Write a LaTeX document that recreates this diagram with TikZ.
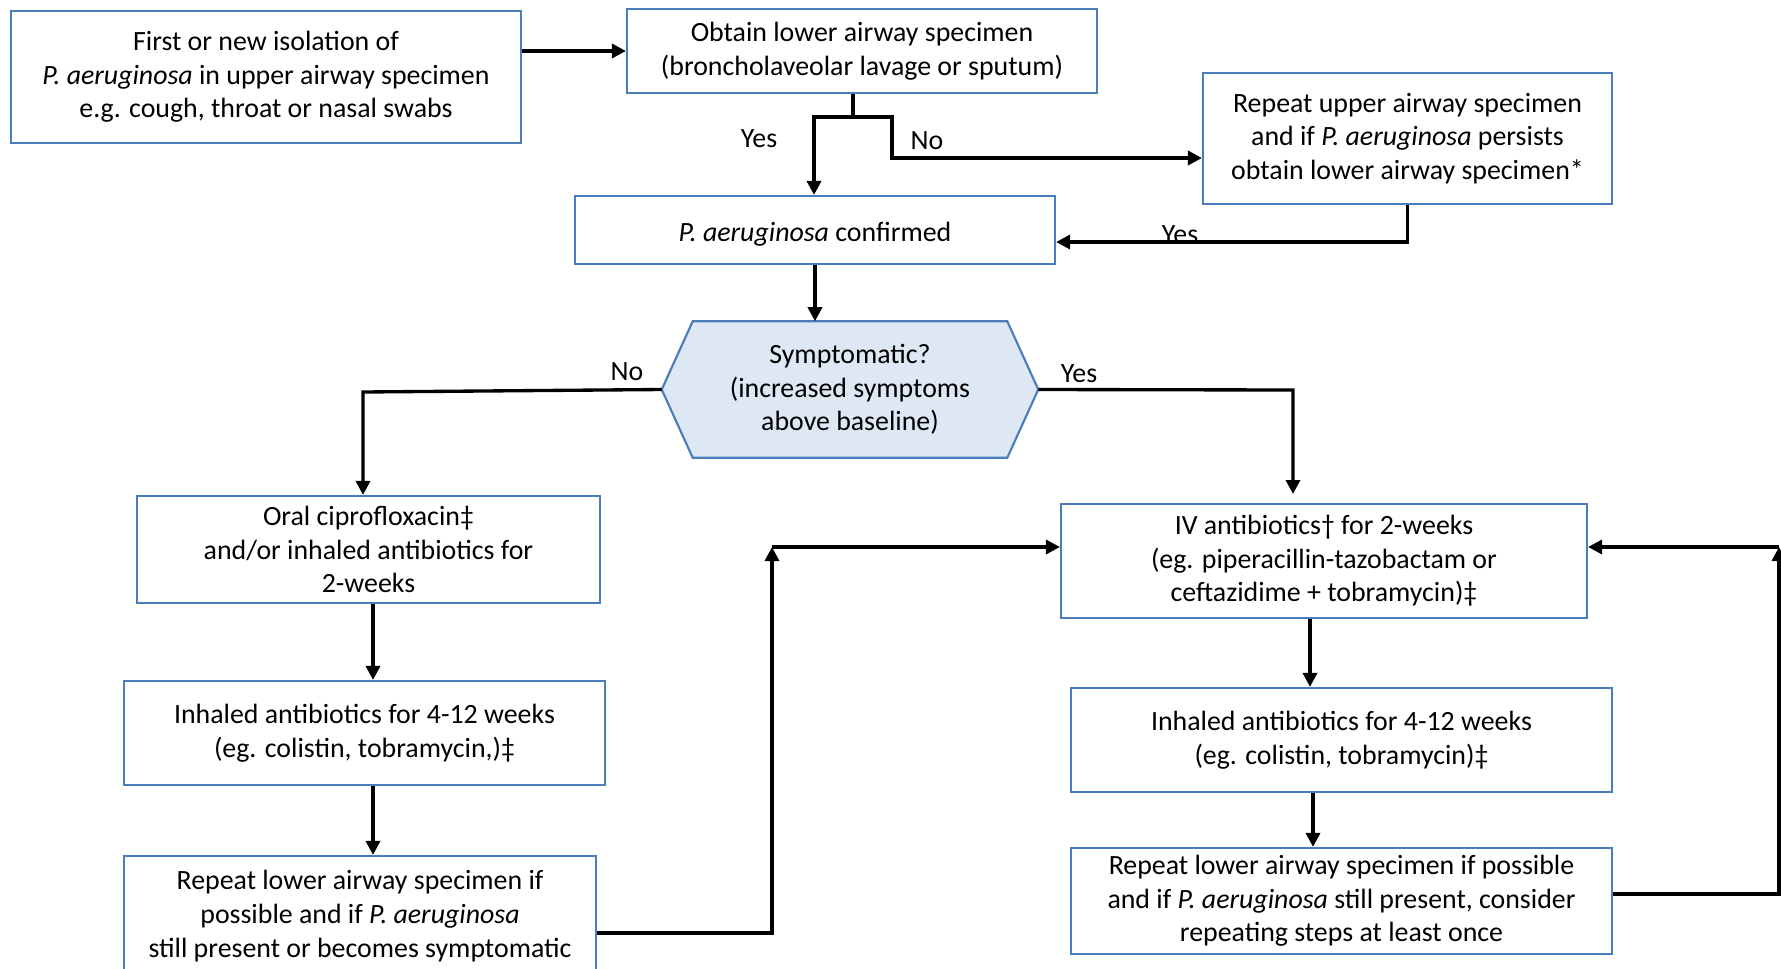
\documentclass[tikz,border=0pt]{standalone}
\usepackage{fontspec}
\setmainfont{Carlito}
\usetikzlibrary{arrows.meta,backgrounds}
\definecolor{boxblue}{HTML}{4A7DBA}
\definecolor{hexfill}{HTML}{DEE8F5}
\tikzset{
  box/.style={draw=boxblue, line width=1.6pt, fill=white, align=center, inner sep=0pt, anchor=center,
    execute at begin node={\rule{0pt}{20.5pt}}},
  hexnode/.style={draw=none, align=center, inner sep=0pt, anchor=center,
    execute at begin node={\rule{0pt}{20.5pt}}},
  hexshape/.style={draw=boxblue, line width=1.6pt, fill=hexfill, line join=miter},
  line/.style={line width=2.5pt, draw=black},
  conn/.style={line, -{Triangle[length=10.5pt,width=10.5pt]}},
  lbl/.style={inner sep=0pt, anchor=center},
}
\begin{document}
\begin{tikzpicture}[x=0.75pt, y=-0.75pt, font=\fontsize{20.9pt}{25.2pt}\selectfont]
\useasboundingbox (0,0) rectangle (1781,968);
\clip (0,0) rectangle (1781,968);

% nodes
\node[box, minimum width=382.5pt, minimum height=99pt] (A) at (266,77)
  {First or new isolation of\\\textit{P. aeruginosa} in upper airway specimen\\e.g. cough, throat or nasal swabs};
\node[box, minimum width=352.5pt, minimum height=63pt] (B) at (862,51)
  {Obtain lower airway specimen\\(broncholaveolar lavage or sputum)};
\node[box, minimum width=306.75pt, minimum height=98.25pt] (D) at (1407.5,138.5)
  {Repeat upper airway specimen\\and if \textit{P. aeruginosa} persists\\obtain lower airway specimen*};
\node[box, minimum width=360pt, minimum height=51pt] (C) at (815,230)
  {\textit{P. aeruginosa} confirmed};
\node[hexnode, minimum width=282pt, minimum height=102pt] (hex) at (850,389.5)
  {Symptomatic?\\(increased symptoms\\above baseline)};
\begin{scope}[on background layer]
  \fill[white] (0,0) rectangle (1781,968);
  \path[hexshape] (hex.west) -- ([xshift=23.25pt]hex.north west) -- ([xshift=-23.25pt]hex.north east)
    -- (hex.east) -- ([xshift=-23.25pt]hex.south east) -- ([xshift=23.25pt]hex.south west) -- cycle;
\end{scope}
\node[box, minimum width=347.25pt, minimum height=80.25pt] (E) at (368.5,549.5)
  {Oral ciprofloxacin‡\\and/or inhaled antibiotics for\\2-weeks};
\node[box, minimum width=360.75pt, minimum height=78pt] (G) at (364.5,733)
  {Inhaled antibiotics for 4-12 weeks\\(eg. colistin, tobramycin,)‡};
\node[box, minimum width=354pt, minimum height=90pt] (H) at (360,916)
  {Repeat lower airway specimen if\\possible and if \textit{P. aeruginosa}\\still present or becomes symptomatic};
\node[box, minimum width=394.5pt, minimum height=85.5pt] (F) at (1324,561)
  {IV antibiotics† for 2-weeks\\(eg. piperacillin-tazobactam or\\ceftazidime + tobramycin)‡};
\node[box, minimum width=405.75pt, minimum height=78pt] (I) at (1341.5,740)
  {Inhaled antibiotics for 4-12 weeks\\(eg. colistin, tobramycin)‡};
\node[box, minimum width=405.75pt, minimum height=79.5pt] (J) at (1341.5,901)
  {Repeat lower airway specimen if possible\\and if \textit{P. aeruginosa} still present, consider\\repeating steps at least once};

% labels
\node[lbl] (yes1) at (759,139) {Yes};
\node[lbl] (no1) at (927,141) {No};
\node[lbl, anchor=base] (yes2) at (1180,243) {Yes};
\node[lbl] (no2) at (627,372) {No};
\node[lbl] (yes3) at (1079,374) {Yes};

% helper coordinates
\coordinate (bsplit) at (853,117);
\coordinate (yesc) at (814,117);
\coordinate (noc) at (892,117);
\coordinate (nobend) at (892,158);
\coordinate (dbend) at (1407.5,242);
\coordinate (nol) at (363,392);
\coordinate (yesr) at (1293,390);
\coordinate (yesend) at (1293,494);
\coordinate (lx) at (373,0);
\coordinate (rx1) at (1310,0);
\coordinate (rx2) at (1313,0);
\coordinate (hb) at (772,933);
\coordinate (ht) at (772,547);
\coordinate (jb) at (1779,894);
\coordinate (jt) at (1779,547);

% connectors
\draw[conn] (A.east |- B.west) -- (B.west);
\draw[line] (bsplit |- B.south) -- (bsplit);
\draw[line, line cap=rect] (yesc) -- (noc);
\draw[conn] (yesc) -- (yesc |- C.north);
\draw[conn] (noc) -- (nobend) -- (nobend -| D.west);
\draw[conn] (D.south) -- (dbend) -- (dbend -| C.east);
\draw[conn] (C.south) -- (C.south |- hex.north);
\draw[conn] (hex.west) -- (nol) -- (nol |- E.north);
\draw[conn] (hex.east) -- (yesr) -- (yesend);
\draw[conn] (E.south -| lx) -- (G.north -| lx);
\draw[conn] (G.south -| lx) -- (H.north -| lx);
\draw[conn] (H.east |- hb) -- (hb) -- (ht);
\draw[conn] (ht) -- (ht -| F.west);
\draw[conn] (F.south -| rx1) -- (I.north -| rx1);
\draw[conn] (I.south -| rx2) -- (J.north -| rx2);
\draw[conn] (J.east |- jb) -- (jb) -- (jt);
\draw[conn] (jt) -- (jt -| F.east);
\end{tikzpicture}
\end{document}
